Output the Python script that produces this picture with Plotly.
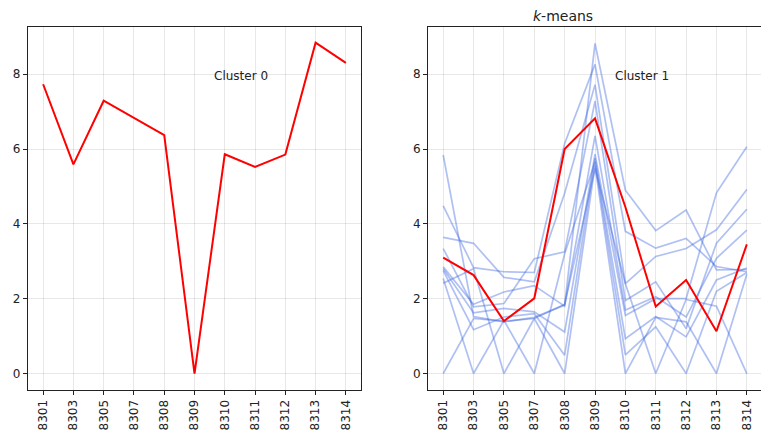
import plotly.graph_objects as go

categories = ["8301", "8303", "8305", "8307", "8308", "8309", "8310", "8311", "8312", "8313", "8314"]

cluster0_center = [7.73, 5.59, 7.29, 6.82, 6.37, 0.0, 5.86, 5.52, 5.85, 8.84, 8.30]

cluster1_center = [3.10, 2.63, 1.40, 2.01, 6.00, 6.82, 4.45, 1.79, 2.50, 1.13, 3.45]

cluster1_members = [
    [5.84, 1.52, 1.38, 1.50, 1.83, 8.82, 4.90, 3.82, 4.37, 2.77, 2.78],
    [4.48, 2.83, 2.72, 2.70, 6.15, 8.26, 3.80, 3.35, 3.61, 2.86, 2.72],
    [3.64, 3.48, 2.57, 2.45, 4.82, 7.72, 2.40, 3.13, 3.34, 3.84, 4.92],
    [3.34, 1.78, 1.87, 3.07, 3.25, 7.28, 1.95, 2.45, 1.20, 3.48, 4.39],
    [2.85, 1.85, 2.18, 2.35, 1.80, 6.35, 1.70, 2.05, 1.51, 3.08, 3.83],
    [2.80, 1.62, 1.74, 1.65, 1.11, 5.86, 1.55, 2.00, 2.00, 4.83, 6.06],
    [2.75, 1.17, 1.51, 1.60, 0.49, 5.75, 0.93, 1.52, 0.98, 2.50, 2.82],
    [2.54, 0.00, 1.42, 0.00, 3.20, 5.66, 0.50, 1.25, 0.00, 2.20, 2.70],
    [2.41, 2.80, 0.00, 1.47, 0.00, 5.55, 0.00, 1.50, 1.38, 0.00, 2.65],
    [0.00, 1.47, 1.40, 1.47, 1.85, 5.48, 2.40, 0.00, 1.98, 1.80, 0.00],
]

y_ticks = [0, 2, 4, 6, 8]
title_text = "<i>k</i>-means"
cluster_labels = ["Cluster 0", "Cluster 1"]

fig = go.Figure()

# left panel
fig.add_trace(go.Scatter(x=categories, y=cluster0_center, mode="lines",
                         line=dict(color="red", width=2), xaxis="x", yaxis="y",
                         showlegend=False, hoverinfo="skip"))

# right panel
for m in cluster1_members:
    fig.add_trace(go.Scatter(x=categories, y=m, mode="lines",
                             line=dict(color="rgba(65,105,225,0.42)", width=1.7),
                             xaxis="x2", yaxis="y2", showlegend=False, hoverinfo="skip"))
fig.add_trace(go.Scatter(x=categories, y=cluster1_center, mode="lines",
                         line=dict(color="red", width=2), xaxis="x2", yaxis="y2",
                         showlegend=False, hoverinfo="skip"))

axis_common = dict(
    showline=True, linecolor="#222", linewidth=1.2, mirror=True,
    ticks="outside", ticklen=4, tickcolor="#222", tickwidth=1,
    showgrid=True, gridcolor="rgba(0,0,0,0.09)", gridwidth=1,
    zeroline=False, automargin=False,
    tickfont=dict(family="DejaVu Sans", size=12, color="#222"),
)

xr = [-0.5, len(categories) - 0.5]
yr = [-0.44, 9.26]

# page body has an 8px margin, so the figure is sized/offset to compensate
fig.update_layout(
    width=761, height=431,
    margin=dict(l=20, r=7, t=19, b=49, autoexpand=False),
    paper_bgcolor="white", plot_bgcolor="white",
    xaxis=dict(domain=[0, 0.4537], range=xr, type="category", tickangle=-90,
               categoryorder="array", categoryarray=categories, **axis_common),
    yaxis=dict(domain=[0, 1], range=yr, tickvals=y_ticks, anchor="x", **axis_common),
    xaxis2=dict(domain=[0.545, 1], range=xr, type="category", tickangle=-90,
                categoryorder="array", categoryarray=categories, anchor="y2", **axis_common),
    yaxis2=dict(domain=[0, 1], range=yr, tickvals=y_ticks, anchor="x2", **axis_common),
    annotations=[
        dict(text=cluster_labels[0], x=6.55, y=7.95, xref="x", yref="y", showarrow=False,
             font=dict(family="DejaVu Sans", size=12, color="#222")),
        dict(text=cluster_labels[1], x=6.55, y=7.95, xref="x2", yref="y2", showarrow=False,
             font=dict(family="DejaVu Sans", size=12, color="#222")),
        dict(text=title_text, x=0.7725, y=1.0, xref="paper", yref="paper", yanchor="bottom",
             yshift=1, showarrow=False,
             font=dict(family="DejaVu Sans", size=14, color="#222")),
    ],
)

fig.write_html("out.html")
